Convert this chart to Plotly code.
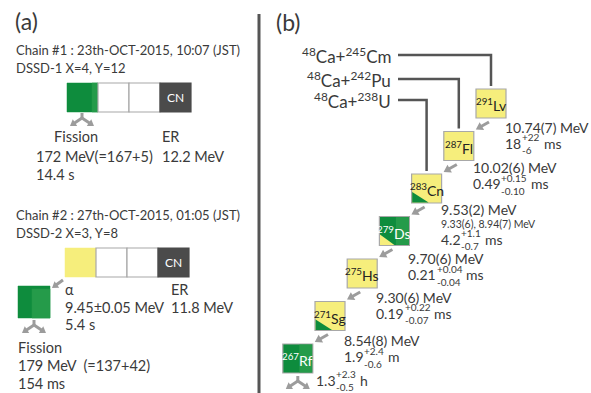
import math
import plotly.graph_objects as go

# ---------------- data ----------------
# (a) two decay chains observed in the DSSD
chain1_title = "Chain #1 : 23th-OCT-2015, 10:07 (JST)"
chain1_pixel = "DSSD-1 X=4, Y=12"
chain1_fission = ["Fission", "172 MeV(=167+5)", "14.4 s"]
chain1_er = ["ER", "12.2 MeV"]

chain2_title = "Chain #2 : 27th-OCT-2015, 01:05 (JST)"
chain2_pixel = "DSSD-2 X=3, Y=8"
chain2_alpha = ["\u03b1", "9.45\u00b10.05 MeV", "5.4 s"]
chain2_er = ["ER", "11.8 MeV"]
chain2_fission = ["Fission", "179 MeV  (=137+42)", "154 ms"]

# (b) systematics of the 48Ca-induced decay chain
reactions = [("48", "Ca", "245", "Cm"), ("48", "Ca", "242", "Pu"), ("48", "Ca", "238", "U")]
mass_numbers = [291, 287, 283, 279, 275, 271, 267]
elements = ["Lv", "Fl", "Cn", "Ds", "Hs", "Sg", "Rf"]
decay_modes = ["a", "a", "a+sf", "sf+a", "a", "a+sf", "sf"]
alpha_energies = ["10.74(7)", "10.02(6)", "9.53(2)", "9.70(6)", "9.30(6)", "8.54(8)", None]
extra_energies = [None, None, "9.33(6), 8.94(7) MeV", None, None, None, None]
half_value = ["18", "0.49", "4.2", "0.21", "0.19", "1.9", "1.3"]
half_up = ["+22", "+0.15", "+1.1", "+0.04", "+0.22", "+2.4", "+2.3"]
half_down = ["-6", "-0.10", "-0.7", "-0.04", "-0.07", "-0.6", "-0.5"]
half_unit = ["ms", "ms", "ms", "ms", "ms", "m", "h"]

# ---------------- style ----------------
FONT = "Lato"
TXT = "#3a3a3a"
GREEN = "#0e8c3d"
GREEN_L = "#259b4a"
YELLOW = "#f6ee7c"
DARK = "#4b4b4b"
ARROW = "#9c9c9c"
EDGE = "#a8a8a8"

fig = go.Figure()
shapes = []
ann = []


def text(x, y, s, size, anchor="left", color=TXT):
    ann.append(dict(x=x, y=y, text=s, showarrow=False, xanchor=anchor, yanchor="middle",
                    font=dict(family=FONT, size=size, color=color)))


def rect(x0, y0, x1, y1, fill, line=EDGE, lw=1.2):
    shapes.append(dict(type="rect", x0=x0, y0=y0, x1=x1, y1=y1, fillcolor=fill,
                       line=dict(color=line, width=lw), layer="above"))


def poly(pts, fill):
    path = "M " + " L ".join(f"{px:.2f},{py:.2f}" for px, py in pts) + " Z"
    shapes.append(dict(type="path", path=path, fillcolor=fill, line=dict(width=0), layer="above"))


def line(x0, y0, x1, y1, color, width):
    shapes.append(dict(type="line", x0=x0, y0=y0, x1=x1, y1=y1,
                       line=dict(color=color, width=width), layer="above"))


def arrow(x0, y0, x1, y1, width=3, head=7.0, half=4.5):
    # shaft plus a filled triangular head ending at (x1, y1)
    dx, dy = x1 - x0, y1 - y0
    n = math.hypot(dx, dy)
    ux, uy = dx / n, dy / n
    bx, by = x1 - ux * head, y1 - uy * head
    line(x0, y0, bx + ux * 1.0, by + uy * 1.0, ARROW, width)
    poly([(x1, y1), (bx - uy * half, by + ux * half), (bx + uy * half, by - ux * half)], ARROW)


def fission_mark(cx, ytop):
    line(cx, ytop, cx, ytop + 6, ARROW, 3)
    arrow(cx, ytop + 5, cx - 12, ytop + 13, width=3, head=6, half=4)
    arrow(cx, ytop + 5, cx + 12, ytop + 13, width=3, head=6, half=4)


CHAR_EM = {".": 0.23, "+": 0.58, "-": 0.37, " ": 0.26}


def text_width(s, size):
    return sum(CHAR_EM.get(c, 0.58) for c in s) * size


# ---------------- panel (a) ----------------
text(13, 21, "(a)", 23)
line(259, 14, 259, 393, "#555555", 3)

LA = 14.5
# chain 1 strip: implantation pixel row
text(14, 50, chain1_title, 13)
text(14, 68, chain1_pixel, 13)
cw, x0a, y0a = 31, 67, 83
rect(x0a, y0a, x0a + cw, y0a + 29, GREEN, line=GREEN, lw=0.5)
rect(x0a + cw - 6, y0a, x0a + cw, y0a + 29, GREEN_L, line=GREEN_L, lw=0.5)
for k in (1, 2):
    rect(x0a + k * cw, y0a, x0a + (k + 1) * cw, y0a + 29, "white")
rect(x0a + 3 * cw, y0a, x0a + 4 * cw, y0a + 29, DARK, line=DARK)
text(x0a + 3.5 * cw, y0a + 14.5, "CN", 12, anchor="center", color="white")
fission_mark(x0a + 15, 113)
text(76, 136, chain1_fission[0], LA, anchor="center")
text(34, 156, chain1_fission[1], LA)
text(34, 174, chain1_fission[2], LA)
text(160, 136, chain1_er[0], LA)
text(160, 156, chain1_er[1], LA)

# chain 2 strip
text(14, 215, chain2_title, 13)
text(14, 233, chain2_pixel, 13)
x0b, y0b = 65, 248
rect(x0b, y0b, x0b + cw, y0b + 29, YELLOW, line=YELLOW, lw=0.5)
for k in (1, 2):
    rect(x0b + k * cw, y0b, x0b + (k + 1) * cw, y0b + 29, "white")
rect(x0b + 3 * cw, y0b, x0b + 4 * cw, y0b + 29, DARK, line=DARK)
text(x0b + 3.5 * cw, y0b + 14.5, "CN", 12, anchor="center", color="white")
arrow(63, 280, 52, 288, width=3, head=6, half=4)
rect(18, 286, 50, 318, GREEN, line=GREEN, lw=0.5)
rect(32, 289, 50, 318, GREEN_L, line=GREEN_L, lw=0.5)
fission_mark(34, 320)
text(63, 289, chain2_alpha[0], LA)
text(63, 307, chain2_alpha[1], LA)
text(63, 324, chain2_alpha[2], LA)
text(169, 289, chain2_er[0], LA)
text(169, 307, chain2_er[1], LA)
text(16, 347, chain2_fission[0], LA)
text(16, 365, chain2_fission[1], LA)
text(16, 383, chain2_fission[2], LA)

# ---------------- panel (b) ----------------
text(274, 22, "(b)", 23)

LB = 14
BW, BH = 30, 29
box_left = [476 - 32.2 * i for i in range(len(elements))]
box_top = [89 + 42.5 * i for i in range(len(elements))]
label_dy = [38, 36, 35, 42, 38, 39, 36]

# reaction entry lines
react_y = [55, 79, 100]
for i, (a1, s1, a2, s2) in enumerate(reactions):
    y = react_y[i]
    text(393, y, f"<sup>{a1}</sup>{s1}+<sup>{a2}</sup>{s2}", 17, anchor="right")
    cx = box_left[i] + BW / 2
    shapes.append(dict(type="path", path=f"M 398,{y} L {cx:.2f},{y} L {cx:.2f},{box_top[i] - 3:.2f}",
                       line=dict(color="#555555", width=2.5)))

for i, (m, el, mode) in enumerate(zip(mass_numbers, elements, decay_modes)):
    xl, yt = box_left[i], box_top[i]
    xr, yb = xl + BW, yt + BH
    if mode.startswith("sf"):
        rect(xl, yt, xr, yb, GREEN)
        poly([(xl + BW * 0.55, yt + 0.6), (xr - 0.6, yt + 0.6), (xr - 0.6, yb - 0.6),
              (xl + BW * 0.55, yb - 0.6)], GREEN_L)
        if mode == "sf+a":
            poly([(xl + 0.6, yb - 11), (xl + 0.6, yb - 0.6), (xl + 15, yb - 0.6)], YELLOW)
        tc = "white"
    else:
        rect(xl, yt, xr, yb, YELLOW)
        if mode == "a+sf":
            poly([(xl + 0.6, yb - 11), (xl + 0.6, yb - 0.6), (xl + 17, yb - 0.6)], GREEN)
        tc = "#222222"
    text(xl + BW / 2, yt + BH / 2 + 1, f"<sup>{m}</sup>{el}", 14, anchor="center", color=tc)

    # alpha-decay arrow to the daughter
    if i < len(elements) - 1:
        arrow(xl + 13, yb + 4, box_left[i + 1] + BW + 2, box_top[i + 1] - 2)
    else:
        fission_mark(xl + BW / 2, yb + 3)

    # energy and half-life labels
    lx = xl + 27 if i < len(elements) - 1 else xl + 31
    ly = yt + label_dy[i]
    if alpha_energies[i] is not None:
        text(lx, ly, f"{alpha_energies[i]} MeV", LB)
        ly += 15
        if extra_energies[i] is not None:
            text(lx, ly, extra_energies[i], 10.5)
            ly += 15
        else:
            ly += 1
    wmain = text_width(half_value[i], LB)
    text(lx, ly, half_value[i], LB)
    text(lx + wmain + 1, ly - 6, half_up[i], 10)
    text(lx + wmain + 1, ly + 7, half_down[i], 10)
    wsup = max(text_width(half_up[i], 10), text_width(half_down[i], 10))
    text(lx + wmain + 1 + wsup + 4, ly, half_unit[i], LB)

fig.update_layout(
    width=591, height=393,
    margin=dict(l=0, r=0, t=0, b=0),
    paper_bgcolor="white", plot_bgcolor="white",
    xaxis=dict(range=[0, 591], visible=False, fixedrange=True),
    yaxis=dict(range=[393, 0], visible=False, fixedrange=True),
    shapes=shapes, annotations=ann, showlegend=False,
)
fig.write_html("out.html")
